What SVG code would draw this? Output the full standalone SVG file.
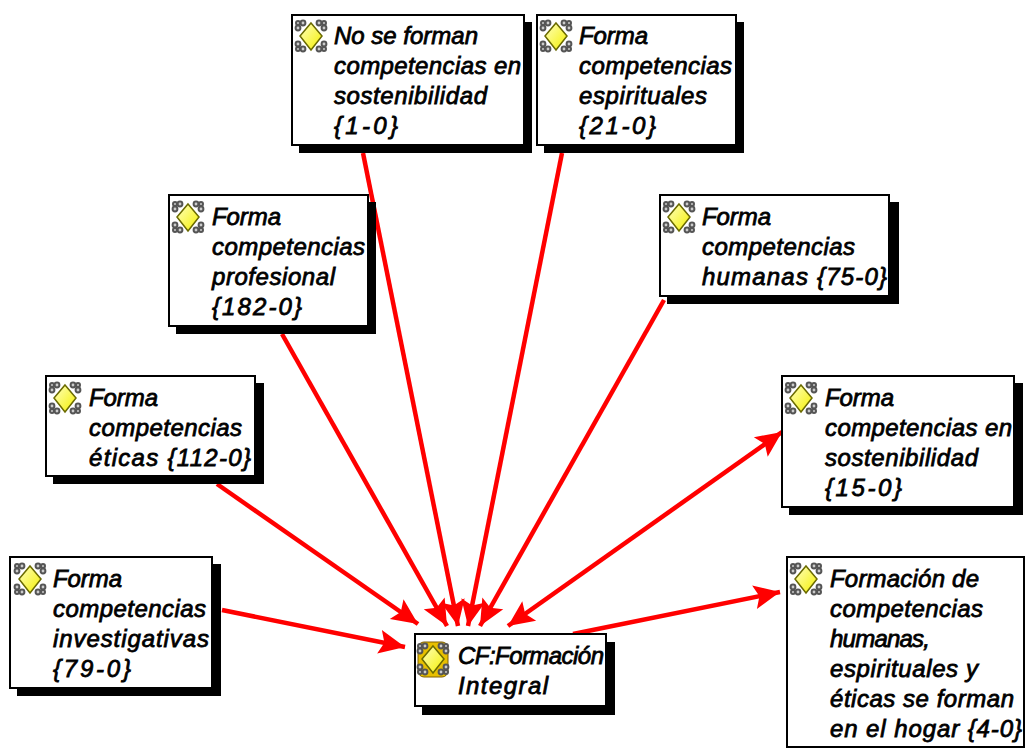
<svg xmlns="http://www.w3.org/2000/svg" xmlns:xlink="http://www.w3.org/1999/xlink" width="1025" height="749" viewBox="0 0 1025 749">
<style>
.s{fill:#000}
.b{fill:#fff;stroke:#000;stroke-width:2}
.t{font-family:"Liberation Sans",Arial,sans-serif;font-size:24px;font-style:italic;font-weight:normal;fill:#000;stroke:#000;stroke-width:.8px}
.c{fill:none;stroke:#f00;stroke-width:4.5}
.h{fill:#f00}
</style>
<defs>
<linearGradient id="g" x1="0" y1="0" x2="1" y2="1"><stop offset="0" stop-color="#ffffc0"/><stop offset="1" stop-color="#f4f000"/></linearGradient>
<marker id="a" markerUnits="userSpaceOnUse" markerWidth="30" markerHeight="30" refX="27" refY="15" orient="auto-start-reverse" viewBox="0 0 30 30"><path class="h" d="M27 15 L1 3 L6 15 L1 27 Z"/></marker>
<g id="i">
<g fill="#ccc" stroke="#555" stroke-width="2"><circle cx="-13" cy="-8" r="2.4"/><circle cx="-8" cy="-13" r="2.4"/><circle cx="-13" cy="-13" r="2"/><circle cx="13" cy="-8" r="2.4"/><circle cx="8" cy="-13" r="2.4"/><circle cx="13" cy="-13" r="2"/><circle cx="-13" cy="8" r="2.4"/><circle cx="-8" cy="13" r="2.4"/><circle cx="-13" cy="13" r="2"/><circle cx="13" cy="8" r="2.4"/><circle cx="8" cy="13" r="2.4"/><circle cx="13" cy="13" r="2"/></g>
<path d="M0-13 L11 0 L0 14 L-11 0Z" fill="url(#g)" stroke="#6a6a00" stroke-width="1.5"/>
</g>
</defs>
<g id="connectors">
<path class="c" marker-end="url(#a)" d="M363 153 L458 626"/>
<path class="c" marker-end="url(#a)" d="M562 153 L468 626"/>
<path class="c" marker-end="url(#a)" d="M282 334 L447 626"/>
<path class="c" marker-end="url(#a)" d="M664 300 L480 626"/>
<path class="c" marker-end="url(#a)" d="M217 484 L418 624"/>
<path class="c" marker-start="url(#a)" marker-end="url(#a)" d="M782 432 L508 626"/>
<path class="c" marker-end="url(#a)" d="M222 610 L405 647"/>
<path class="c" marker-end="url(#a)" d="M573 634 L780 592"/>
</g>
<g id="n1"><rect class="s" x="299" y="22" width="233" height="131"/><rect class="b" x="292" y="15" width="232" height="130"/><use xlink:href="#i" href="#i" x="311" y="36"/><text class="t"><tspan x="334" y="44" textLength="144">No se forman</tspan><tspan x="334" y="74" textLength="187">competencias en</tspan><tspan x="334" y="104" textLength="153">sostenibilidad</tspan><tspan x="334" y="134" textLength="64">{1-0}</tspan></text></g>
<g id="n2"><rect class="s" x="544" y="22" width="200" height="131"/><rect class="b" x="537" y="15" width="199" height="130"/><use xlink:href="#i" href="#i" x="556" y="36"/><text class="t"><tspan x="579" y="44" textLength="69">Forma</tspan><tspan x="579" y="74" textLength="153">competencias</tspan><tspan x="579" y="104" textLength="128">espirituales</tspan><tspan x="579" y="134" textLength="77">{21-0}</tspan></text></g>
<g id="n3"><rect class="s" x="176" y="202" width="200" height="132"/><rect class="b" x="169" y="195" width="199" height="131"/><use xlink:href="#i" href="#i" x="188" y="217"/><text class="t"><tspan x="212" y="225" textLength="69">Forma</tspan><tspan x="212" y="255" textLength="153">competencias</tspan><tspan x="212" y="285" textLength="123">profesional</tspan><tspan x="212" y="315" textLength="90">{182-0}</tspan></text></g>
<g id="n4"><rect class="s" x="667" y="202" width="232" height="102"/><rect class="b" x="660" y="195" width="229" height="101"/><use xlink:href="#i" href="#i" x="679" y="217"/><text class="t"><tspan x="702" y="225" textLength="69">Forma</tspan><tspan x="702" y="255" textLength="153">competencias</tspan><tspan x="702" y="285" textLength="185">humanas {75-0}</tspan></text></g>
<g id="n5"><rect class="s" x="53" y="383" width="211" height="101"/><rect class="b" x="46" y="376" width="209" height="100"/><use xlink:href="#i" href="#i" x="65" y="398"/><text class="t"><tspan x="89" y="406" textLength="69">Forma</tspan><tspan x="89" y="436" textLength="153">competencias</tspan><tspan x="89" y="466" textLength="162">éticas {112-0}</tspan></text></g>
<g id="n6"><rect class="s" x="789" y="383" width="234" height="132"/><rect class="b" x="782" y="376" width="232" height="131"/><use xlink:href="#i" href="#i" x="801" y="398"/><text class="t"><tspan x="825" y="406" textLength="69">Forma</tspan><tspan x="825" y="436" textLength="187">competencias en</tspan><tspan x="825" y="466" textLength="153">sostenibilidad</tspan><tspan x="825" y="496" textLength="77">{15-0}</tspan></text></g>
<g id="n7"><rect class="s" x="17" y="564" width="204" height="132"/><rect class="b" x="10" y="557" width="202" height="131"/><use xlink:href="#i" href="#i" x="30" y="579"/><text class="t"><tspan x="53" y="587" textLength="69">Forma</tspan><tspan x="53" y="617" textLength="153">competencias</tspan><tspan x="53" y="647" textLength="156">investigativas</tspan><tspan x="53" y="677" textLength="78">{79-0}</tspan></text></g>
<g id="n8"><rect class="b" x="787" y="557" width="237" height="190"/><use xlink:href="#i" href="#i" x="806" y="579"/><text class="t"><tspan x="830" y="587" textLength="149">Formación de</tspan><tspan x="830" y="617" textLength="153">competencias</tspan><tspan x="830" y="647" textLength="100">humanas,</tspan><tspan x="830" y="677" textLength="148">espirituales y</tspan><tspan x="830" y="707" textLength="184">éticas se forman</tspan><tspan x="830" y="737" textLength="192">en el hogar {4-0}</tspan></text></g>
<g id="n9"><rect class="s" x="422" y="642" width="193" height="73"/><rect class="b" x="415" y="634" width="191" height="72"/><rect x="418" y="642" width="30" height="35" rx="6" fill="#e8c000" stroke="#806000"/><use xlink:href="#i" href="#i" x="433" y="659"/><text class="t"><tspan x="458" y="664" textLength="146">CF:Formación</tspan><tspan x="458" y="694" textLength="90">Integral</tspan></text></g>
</svg>
